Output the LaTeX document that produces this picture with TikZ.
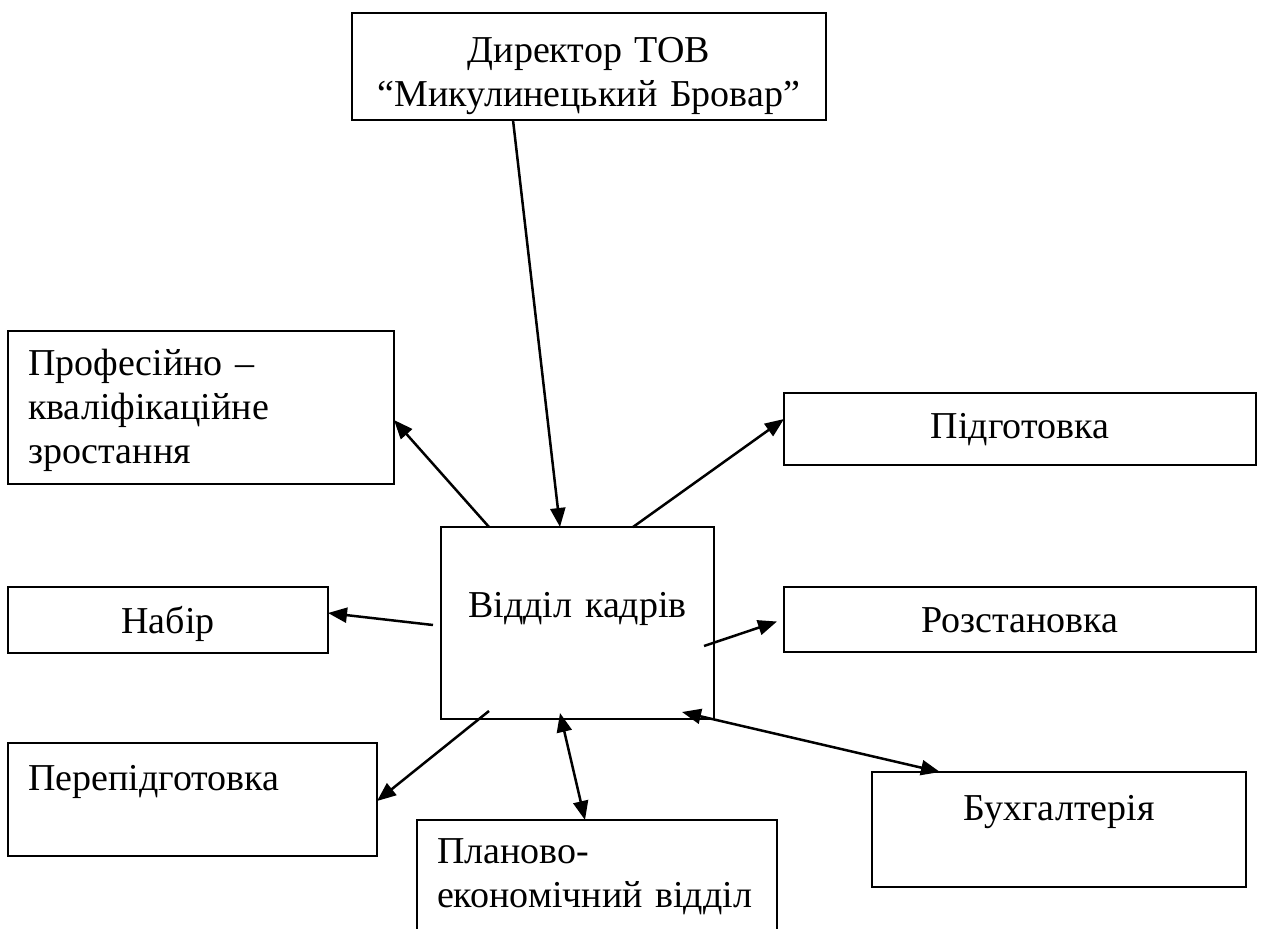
\documentclass[tikz,border=0pt]{standalone}
\usepackage{fontspec}
\setmainfont{Liberation Serif}
\usepackage{tikz}
\usetikzlibrary{arrows.meta,calc}
\newcommand{\unitfont}{\fontsize{38}{44}\selectfont}
\tikzset{
  unit/.style={draw,line width=2pt,anchor=north west,inner ysep=0pt,outer sep=0pt,font=\unitfont},
  mid/.style={unit,inner xsep=0pt,align=center},
  lft/.style={unit,inner xsep=20pt,align=left},
  link/.style={line width=2.5pt,-{Triangle[length=19pt,width=15pt]}},
  both/.style={line width=2.5pt,{Triangle[length=19pt,width=15pt]}-{Triangle[length=19pt,width=15pt]}},
}
\begin{document}
\begin{tikzpicture}[x=1pt,y=-1pt]
  \useasboundingbox (0,0) rectangle (1262,929);
  % boxes
  \node[mid,text width=474pt,text height=49pt,text depth=58pt] (dir) at (352,13)
    {Директор ТОВ\\“Микулинецький Бровар”};
  \node[lft,text width=346pt,text height=44pt,text depth=109pt] (prof) at (8,331)
    {Професійно –\\кваліфікаційне\\зростання};
  \node[mid,text width=472pt,text height=45pt,text depth=27pt] (pidg) at (784,393) {Підготовка};
  \node[mid,text width=273pt,text height=90pt,text depth=102pt] (kadry) at (441,527) {Відділ кадрів};
  \node[mid,text width=320pt,text height=46pt,text depth=20pt] (nabir) at (8,587) {Набір};
  \node[mid,text width=472pt,text height=45pt,text depth=20pt] (rozst) at (784,587) {Розстановка};
  \node[lft,text width=329pt,text height=47pt,text depth=66pt] (perep) at (8,743) {Перепідготовка};
  \node[lft,text width=320pt,text height=43pt,text depth=72pt] (plan) at (417,820)
    {Планово-\\економічний відділ};
  \node[mid,text width=374pt,text height=48pt,text depth=67pt] (buh) at (872,772) {Бухгалтерія};
  % links
  \draw[link] ($(dir.south west)+(161,0)$) -- ($(kadry.north west)+(119,0)$);
  \draw[link] ($(kadry.north west)+(48,0)$) -- ($(prof.south east)+(0,-64)$);
  \draw[link] ($(kadry.north west)+(192,0)$) -- ($(pidg.west)+(0,-10)$);
  \draw[link] ($(kadry.north west)+(-8,98)$) -- ($(nabir.east)+(0,-7)$);
  \draw[link] ($(kadry.north east)+(-10,119)$) -- ($(rozst.west)+(-7,2)$);
  \draw[link] ($(kadry.south west)+(48,-8)$) -- ($(perep.north east)+(0,58)$);
  \draw[both] ($(kadry.south west)+(119,-6)$) -- ($(plan.north west)+(168,0)$);
  \draw[both] ($(kadry.south east)+(-32,-7)$) -- ($(buh.north west)+(68,0)$);
\end{tikzpicture}
\end{document}
